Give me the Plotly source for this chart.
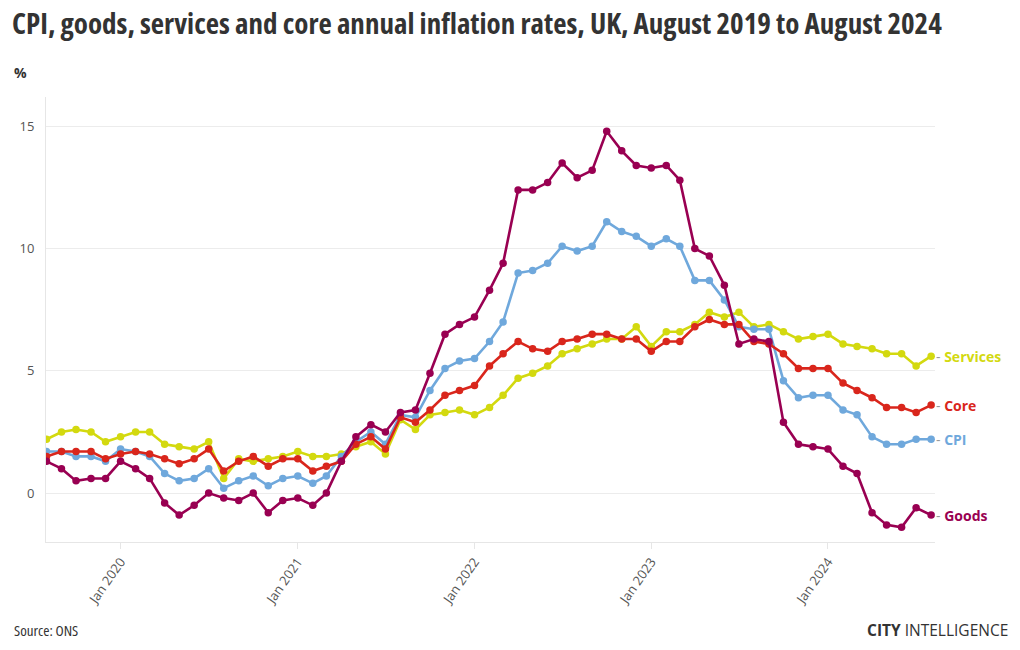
import pandas as pd
import plotly.graph_objects as go

dates = pd.date_range("2019-08-01", "2024-08-01", freq="MS")

cpi = [1.7, 1.7, 1.5, 1.5, 1.3,
       1.8, 1.7, 1.5, 0.8, 0.5, 0.6, 1.0, 0.2, 0.5, 0.7, 0.3, 0.6,
       0.7, 0.4, 0.7, 1.5, 2.1, 2.5, 2.0, 3.2, 3.1, 4.2, 5.1, 5.4,
       5.5, 6.2, 7.0, 9.0, 9.1, 9.4, 10.1, 9.9, 10.1, 11.1, 10.7, 10.5,
       10.1, 10.4, 10.1, 8.7, 8.7, 7.9, 6.8, 6.7, 6.7, 4.6, 3.9, 4.0,
       4.0, 3.4, 3.2, 2.3, 2.0, 2.0, 2.2, 2.2]

core = [1.5, 1.7, 1.7, 1.7, 1.4,
        1.6, 1.7, 1.6, 1.4, 1.2, 1.4, 1.8, 0.9, 1.3, 1.5, 1.1, 1.4,
        1.4, 0.9, 1.1, 1.3, 2.0, 2.3, 1.8, 3.1, 2.9, 3.4, 4.0, 4.2,
        4.4, 5.2, 5.7, 6.2, 5.9, 5.8, 6.2, 6.3, 6.5, 6.5, 6.3, 6.3,
        5.8, 6.2, 6.2, 6.8, 7.1, 6.9, 6.9, 6.2, 6.1, 5.7, 5.1, 5.1,
        5.1, 4.5, 4.2, 3.9, 3.5, 3.5, 3.3, 3.6]

services = [2.2, 2.5, 2.6, 2.5, 2.1,
            2.3, 2.5, 2.5, 2.0, 1.9, 1.8, 2.1, 0.6, 1.4, 1.3, 1.4, 1.5,
            1.7, 1.5, 1.5, 1.6, 1.9, 2.1, 1.6, 3.0, 2.6, 3.2, 3.3, 3.4,
            3.2, 3.5, 4.0, 4.7, 4.9, 5.2, 5.7, 5.9, 6.1, 6.3, 6.3, 6.8,
            6.0, 6.6, 6.6, 6.9, 7.4, 7.2, 7.4, 6.8, 6.9, 6.6, 6.3, 6.4,
            6.5, 6.1, 6.0, 5.9, 5.7, 5.7, 5.2, 5.6]

goods = [1.3, 1.0, 0.5, 0.6, 0.6,
         1.3, 1.0, 0.6, -0.4, -0.9, -0.5, 0.0, -0.2, -0.3, 0.0, -0.8, -0.3,
         -0.2, -0.5, 0.0, 1.3, 2.3, 2.8, 2.5, 3.3, 3.4, 4.9, 6.5, 6.9,
         7.2, 8.3, 9.4, 12.4, 12.4, 12.7, 13.5, 12.9, 13.2, 14.8, 14.0, 13.4,
         13.3, 13.4, 12.8, 10.0, 9.7, 8.5, 6.1, 6.3, 6.2, 2.9, 2.0, 1.9,
         1.8, 1.1, 0.8, -0.8, -1.3, -1.4, -0.6, -0.9]

series_names = ["Services", "CPI", "Core", "Goods"]
series_values = [services, cpi, core, goods]
series_colors = ["#d3d90f", "#6fa8dc", "#d9261c", "#990052"]

tick_vals = ["2020-01-01", "2021-01-01", "2022-01-01", "2023-01-01", "2024-01-01"]
tick_text = ["Jan 2020", "Jan 2021", "Jan 2022", "Jan 2023", "Jan 2024"]
y_ticks = [0, 5, 10, 15]

FONT = "Open Sans, Noto Sans, sans-serif"
SC = "font-stretch:semi-condensed"

fig = go.Figure()
for name, vals, col in zip(series_names, series_values, series_colors):
    fig.add_trace(go.Scatter(
        x=dates, y=vals, name=name, mode="lines+markers",
        line=dict(color=col, width=2.6),
        marker=dict(color=col, size=7.5),
        showlegend=False, hoverinfo="x+y+name",
    ))
    fig.add_annotation(
        x=dates[-1], y=vals[-1], xref="x", yref="y",
        text=f"<span style='color:#999999'>- </span><b>{name}</b>",
        showarrow=False, xanchor="left", yanchor="middle", xshift=3,
        font=dict(family=FONT, size=14, color=col),
    )

fig.update_layout(
    width=1020, height=650,
    paper_bgcolor="white", plot_bgcolor="white",
    margin=dict(l=46, r=85, t=97, b=108),
    font=dict(family=FONT, color="#555555"),
    title=dict(
        text=f"<span style='{SC}'><b>CPI, goods, services and core annual inflation rates, UK, August 2019 to August 2024</b></span>",
        x=12 / 1020, xref="container", xanchor="left",
        y=1 - 24 / 650, yref="container", yanchor="middle",
        font=dict(family=FONT, size=29, color="#333333"),
    ),
    xaxis=dict(
        type="date", range=["2019-07-31", "2024-08-09"],
        tickvals=tick_vals, ticktext=tick_text, tickangle=-55,
        showgrid=False, showline=True, linecolor="#e6e6e6", linewidth=1,
        ticks="outside", ticklen=6, tickcolor="#e6e6e6",
        tickfont=dict(family=FONT, size=13, color="#555555"),
        zeroline=False,
    ),
    yaxis=dict(
        range=[-2, 16.2], tickvals=y_ticks,
        showgrid=True, gridcolor="#ececec", gridwidth=1,
        showline=True, linecolor="#e6e6e6", linewidth=1,
        zeroline=False, ticks="", ticklabelstandoff=8,
        tickfont=dict(family=FONT, size=13, color="#555555"),
    ),
)

fig.add_annotation(
    text="<b>%</b>", xref="paper", yref="paper", x=-34 / 889, y=1 + 24 / 445,
    xanchor="left", yanchor="middle", showarrow=False,
    font=dict(family=FONT, size=14, color="#333333"),
)
fig.add_annotation(
    text=f"<span style='{SC}'>Source: ONS</span>", xref="paper", yref="paper",
    x=-34 / 889, y=-88 / 445, xanchor="left", yanchor="middle", showarrow=False,
    font=dict(family=FONT, size=15, color="#333333"),
)
fig.add_annotation(
    text="<b>CITY</b> INTELLIGENCE", xref="paper", yref="paper",
    x=(1010 - 46) / 889, y=-88 / 445, xanchor="right", yanchor="middle", showarrow=False,
    font=dict(family=FONT, size=15.5, color="#333333"),
)

fig.write_html("out.html", config={"displayModeBar": False},
               post_script="document.body.style.margin='0';")
